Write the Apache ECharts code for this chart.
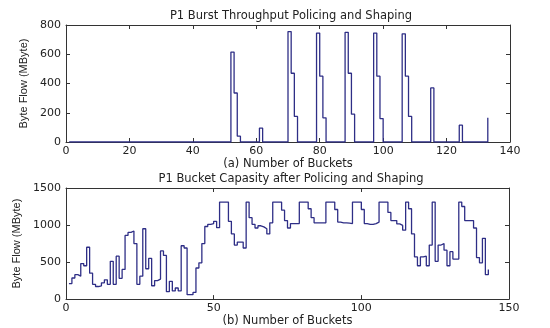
<!DOCTYPE html>
<html>
<head>
<meta charset="utf-8">
<script src="https://cdn.jsdelivr.net/npm/echarts@6/dist/echarts.min.js"></script>
<style>html,body{margin:0;padding:0;background:#fff}#c{width:550px;height:328px}</style>
</head>
<body>
<div id="c"></div>
<script>
// Top chart: burst throughput (stairs, buckets 1..133, zeros elsewhere)
const burstStart = [52, 61, 70, 79, 88, 97, 106, 115, 124, 133];
const burstValues = [
  [615, 335, 40],
  [95],
  [755, 470, 175],
  [745, 450, 165],
  [750, 470, 190],
  [745, 450, 160],
  [740, 450, 175],
  [370],
  [115],
  [165]
];
const topLength = 133;

// Bottom chart: bucket capacity (stairs, buckets 1..143)
const capacity = [
  210, 285, 330, 310, 480, 450, 700, 350, 200, 170,
  180, 220, 260, 200, 510, 200, 580, 280, 400, 860,
  900, 920, 750, 200, 310, 950, 410, 550, 180, 250,
  270, 650, 590, 100, 240, 110, 150, 110, 720, 690,
  60, 60, 90, 420, 490, 750, 980, 1010, 1020, 1050,
  965, 1310, 1310, 1310, 1050, 880, 730, 770, 770, 690,
  1310, 1100, 1010, 960, 990, 975, 950, 880, 1030, 1310,
  1310, 1310, 1200, 1060, 960, 1020, 1020, 1020, 1310,
  1310, 1310, 1220, 1100, 1030, 1030, 1030, 1030, 1310,
  1310, 1310, 1210, 1040, 1030, 1030, 1025, 1020, 1310,
  1310, 1310, 1210, 1020, 1010, 1010, 1020, 1040, 1310,
  1310, 1310, 1170, 1060, 1060, 1015, 995, 930, 1310, 1220,
  880, 570, 450, 570, 580, 450, 730, 1310, 510, 730,
  750, 660, 450, 640, 540, 540, 1310, 1250, 1060, 1060,
  1060, 960, 560, 490, 820, 330, 400
];

const topXTicks = [0, 20, 40, 60, 80, 100, 120, 140];
const topYTicks = [0, 200, 400, 600, 800];
const botXTicks = [0, 50, 100, 150];
const botYTicks = [0, 500, 1000, 1500];

const titles = ['P1 Burst Throughput Policing and Shaping', 'P1 Bucket Capasity after Policing and Shaping'];
const xNames = ['(a) Number of Buckets', '(b) Number of Buckets'];
const yName = 'Byte Flow (MByte)';

// build top series values
const topVals = new Array(topLength).fill(0);
burstStart.forEach((s, i) => {
  burstValues[i].forEach((v, k) => { if (s - 1 + k < topLength) topVals[s - 1 + k] = v; });
});
const topData = topVals.map((v, i) => [i + 1, v]);
const botData = capacity.map((v, i) => [i + 1, v]);

const FONT = '"DejaVu Sans", Verdana, sans-serif';
const TXT = '#222';
const LINE = '#2e2e86';

function xAx(grid, max, interval, main, name) {
  return {
    type: 'value', gridIndex: grid, min: 0, max: max, interval: interval,
    position: main ? 'bottom' : 'top',
    axisLine: {show: true, onZero: false, lineStyle: {color: '#333', width: 1}},
    axisTick: {show: true, inside: true, length: 4, lineStyle: {color: '#333'}},
    axisLabel: {show: main, color: TXT, fontFamily: FONT, fontSize: 11, margin: 4,
                formatter: v => String(v)},
    splitLine: {show: false},
    name: main ? name : '', nameLocation: 'middle', nameGap: 14,
    nameTextStyle: {color: TXT, fontFamily: FONT, fontSize: 11.5}
  };
}
function yAx(grid, max, interval, main) {
  return {
    type: 'value', gridIndex: grid, min: 0, max: max, interval: interval,
    position: main ? 'left' : 'right',
    axisLine: {show: true, onZero: false, lineStyle: {color: '#333', width: 1}},
    axisTick: {show: true, inside: true, length: 4, lineStyle: {color: '#333'}},
    axisLabel: {show: main, color: TXT, fontFamily: FONT, fontSize: 11, margin: 5,
                formatter: v => String(v)},
    splitLine: {show: false},
    name: main ? yName : '', nameLocation: 'middle', nameGap: 36, nameRotate: 90,
    nameTextStyle: {color: TXT, fontFamily: 'Liberation Sans, Arial, sans-serif', fontSize: 11}
  };
}

const chart = echarts.init(document.getElementById('c'), null, {renderer: 'canvas'});
chart.setOption({
  backgroundColor: '#fff',
  animation: false,
  title: [
    {text: titles[0], left: 286, top: 5, textAlign: 'center',
     textStyle: {color: TXT, fontFamily: FONT, fontSize: 11.5, fontWeight: 'normal'}},
    {text: titles[1], left: 286, top: 168, textAlign: 'center',
     textStyle: {color: TXT, fontFamily: FONT, fontSize: 11.5, fontWeight: 'normal'}}
  ],
  grid: [
    {left: 66, right: 40, top: 25, height: 117},
    {left: 66, right: 41, top: 188, height: 117}
  ],
  xAxis: [
    xAx(0, topXTicks[topXTicks.length - 1], topXTicks[1] - topXTicks[0], true, xNames[0]),
    xAx(0, topXTicks[topXTicks.length - 1], topXTicks[1] - topXTicks[0], false),
    xAx(1, botXTicks[botXTicks.length - 1], botXTicks[1] - botXTicks[0], true, xNames[1]),
    xAx(1, botXTicks[botXTicks.length - 1], botXTicks[1] - botXTicks[0], false)
  ],
  yAxis: [
    yAx(0, topYTicks[topYTicks.length - 1], topYTicks[1] - topYTicks[0], true),
    yAx(0, topYTicks[topYTicks.length - 1], topYTicks[1] - topYTicks[0], false),
    yAx(1, botYTicks[botYTicks.length - 1], botYTicks[1] - botYTicks[0], true),
    yAx(1, botYTicks[botYTicks.length - 1], botYTicks[1] - botYTicks[0], false)
  ],
  series: [
    {type: 'line', xAxisIndex: 0, yAxisIndex: 0, data: topData, step: 'end',
     showSymbol: false, symbol: 'none', lineStyle: {color: LINE, width: 1.3}},
    {type: 'line', xAxisIndex: 2, yAxisIndex: 2, data: botData, step: 'end',
     showSymbol: false, symbol: 'none', lineStyle: {color: LINE, width: 1.3}}
  ]
});
</script>
</body>
</html>
